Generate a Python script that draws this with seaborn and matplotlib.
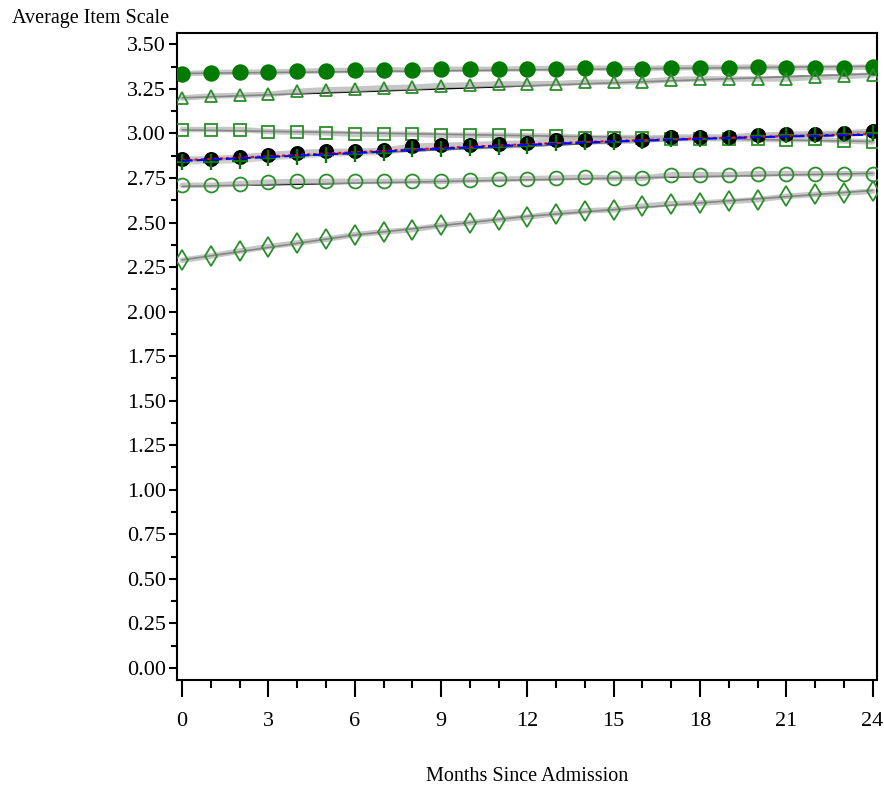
import numpy as np
import pandas as pd
import matplotlib
matplotlib.use("Agg")
import matplotlib.pyplot as plt
from matplotlib.ticker import MultipleLocator, FormatStrFormatter
import seaborn as sns

months = list(range(25))

green_filled_circle = [3.335, 3.341, 3.344, 3.344, 3.348, 3.352, 3.354, 3.358, 3.354, 3.360, 3.360, 3.360,
                       3.364, 3.364, 3.368, 3.364, 3.364, 3.368, 3.370, 3.370, 3.373, 3.370, 3.370, 3.370, 3.373]
triangles = [3.199, 3.210, 3.214, 3.219, 3.236, 3.245, 3.248, 3.256, 3.259, 3.269, 3.272, 3.278,
             3.278, 3.280, 3.287, 3.287, 3.291, 3.302, 3.306, 3.306, 3.306, 3.306, 3.315, 3.320, 3.328]
squares = [3.022, 3.022, 3.022, 3.011, 3.007, 3.003, 2.996, 2.996, 2.996, 2.990, 2.990, 2.990,
           2.986, 2.986, 2.977, 2.977, 2.977, 2.971, 2.971, 2.971, 2.968, 2.964, 2.968, 2.958, 2.953]
black_circles = [2.855, 2.858, 2.867, 2.881, 2.892, 2.899, 2.899, 2.905, 2.929, 2.933, 2.937, 2.943,
                 2.946, 2.961, 2.961, 2.961, 2.965, 2.980, 2.980, 2.980, 2.990, 2.995, 2.999, 3.002, 3.013]
green_plus = [2.837, 2.840, 2.845, 2.860, 2.870, 2.880, 2.885, 2.890, 2.910, 2.915, 2.920, 2.925,
              2.930, 2.945, 2.950, 2.950, 2.955, 2.970, 2.970, 2.975, 2.985, 2.990, 2.990, 2.995, 3.000]
open_circles = [2.709, 2.709, 2.718, 2.727, 2.731, 2.731, 2.731, 2.731, 2.731, 2.731, 2.737, 2.743,
                2.746, 2.749, 2.755, 2.749, 2.749, 2.768, 2.768, 2.768, 2.774, 2.774, 2.774, 2.774, 2.774]
diamonds = [2.288, 2.312, 2.340, 2.365, 2.385, 2.406, 2.432, 2.447, 2.460, 2.484, 2.499, 2.516,
            2.531, 2.550, 2.565, 2.572, 2.592, 2.606, 2.609, 2.619, 2.628, 2.647, 2.658, 2.665, 2.676]

# fitted (model) lines
fit_months = [0, 24]
fit_filled_circle = [3.337, 3.377]
fit_triangles = [3.200, 3.335]
fit_squares = [3.020, 2.955]
fit_black_circles = [2.848, 3.010]
fit_open_circles = [2.703, 2.776]
fit_diamond_months = [0, 6, 12, 18, 24]
fit_diamonds = [2.290, 2.430, 2.535, 2.610, 2.680]

ref_months = [0, 3, 6, 9, 12, 15, 18, 21, 24]
red_fit = [2.850, 2.872, 2.895, 2.918, 2.940, 2.958, 2.972, 2.985, 2.997]
blue_fit = [2.846, 2.868, 2.890, 2.915, 2.936, 2.955, 2.970, 2.983, 2.993]

sns.set_theme(style="white")
plt.rcParams['font.family'] = ['Liberation Serif', 'DejaVu Serif']

fig = plt.figure(figsize=(8.84, 7.90), dpi=100)
ax = fig.add_axes([0.2002, 0.1392, 0.7918, 0.8186])

GREEN = "#007a00"
OPEN_GREEN = "#2a8f2a"
GRAY = "#b4b4b4"

observed = [
    (green_filled_circle, fit_months, fit_filled_circle, "o", GREEN, GREEN, 10.5),
    (triangles, fit_months, fit_triangles, "^", "none", OPEN_GREEN, 9),
    (squares, fit_months, fit_squares, "s", "none", OPEN_GREEN, 9),
    (open_circles, fit_months, fit_open_circles, "o", "none", OPEN_GREEN, 10),
    (diamonds, fit_diamond_months, fit_diamonds, "d", "none", OPEN_GREEN, 10),
    (black_circles, fit_months, fit_black_circles, "o", "black", "black", 9.5),
]

# fitted black lines
for vals, fm, fv, mk, fc, ec, ms in observed:
    sns.lineplot(x=fm, y=fv, ax=ax, color="black", linewidth=1.2, zorder=2)

# gray observed lines
for vals, fm, fv, mk, fc, ec, ms in observed:
    sns.lineplot(x=months, y=vals, ax=ax, color=GRAY, linewidth=4, alpha=0.75, zorder=3)
sns.lineplot(x=months, y=green_plus, ax=ax, color=GRAY, linewidth=3, alpha=0.6, zorder=3)

# markers
for vals, fm, fv, mk, fc, ec, ms in observed:
    ax.plot(months, vals, linestyle="none", marker=mk, markersize=ms,
            markerfacecolor=fc, markeredgecolor=ec, markeredgewidth=1.3, zorder=5)
ax.plot(months, green_plus, linestyle="none", marker="+", markersize=11,
        markeredgecolor=GREEN, markeredgewidth=1.7, zorder=6)

# reference dashed lines
sns.lineplot(x=ref_months, y=red_fit, ax=ax, color="red", linewidth=1.5, linestyle=(0, (1.5, 1.5)), zorder=7)
sns.lineplot(x=ref_months, y=blue_fit, ax=ax, color="blue", linewidth=1.5, linestyle=(0, (5, 2)), zorder=7)

ax.set_xlim(-0.18, 24.15)
ax.set_ylim(-0.068, 3.562)
ax.xaxis.set_major_locator(MultipleLocator(3))
ax.xaxis.set_minor_locator(MultipleLocator(1))
ax.yaxis.set_major_locator(MultipleLocator(0.25))
ax.yaxis.set_minor_locator(MultipleLocator(0.125))
ax.yaxis.set_major_formatter(FormatStrFormatter('%.2f'))

ax.tick_params(axis='both', which='major', direction='out', length=6, width=1.5, color='black',
               labelsize=16, labelcolor='black', bottom=True, left=True)
ax.tick_params(axis='x', which='major', length=12, pad=11)
ax.tick_params(axis='x', which='minor', direction='out', length=6, width=1.5, bottom=True, color='black')
ax.tick_params(axis='y', which='minor', direction='out', length=4, width=1.5, left=True, color='black')
ax.tick_params(axis='y', which='major', pad=2)

for s in ax.spines.values():
    s.set_color('black')
    s.set_linewidth(1.5)

ax.set_xlabel("Months Since Admission", fontsize=14.5, color='black', labelpad=26)
ax.set_ylabel("")
fig.text(12 / 884, 1 - 18 / 790, "Average Item Scale", fontsize=14.5, color='black', ha='left', va='center')
ax.grid(False)

fig.savefig("out.png", dpi=100, facecolor="white")
